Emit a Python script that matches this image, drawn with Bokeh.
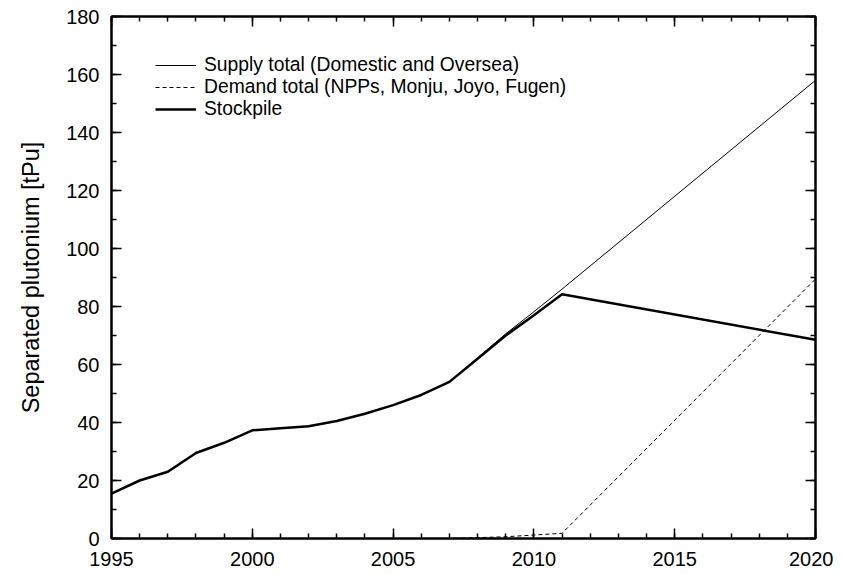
from bokeh.plotting import figure
from bokeh.models import (Range1d, SingleIntervalTicker, LinearAxis, Legend,
                          LegendItem, CustomJSTickFormatter)
from bokeh.embed import file_html
from bokeh.resources import INLINE

years = [1995, 1996, 1997, 1998, 1999, 2000, 2001, 2002, 2003, 2004, 2005,
         2006, 2007, 2008, 2009, 2010, 2011, 2020]
stockpile = [15.5, 20.0, 23.0, 29.5, 33.0, 37.3, 38.0, 38.7, 40.5, 43.0, 46.0,
             49.5, 54.0, 62.0, 70.0, 77.0, 84.2, 68.5]
demand = [0, 0, 0, 0, 0, 0, 0, 0, 0, 0, 0,
          0, 0, 0.3, 0.6, 1.2, 1.8, 89.5]
supply = [15.5, 20.0, 23.0, 29.5, 33.0, 37.3, 38.0, 38.7, 40.5, 43.0, 46.0,
          49.5, 54.0, 62.3, 70.6, 78.2, 86.0, 158.0]

labels = ["Supply total (Domestic and Oversea)",
          "Demand total (NPPs, Monju, Joyo, Fugen)",
          "Stockpile"]

TICK_FONT = "Liberation Sans"
TEXT_FONT = "Liberation Sans"

p = figure(width=833, height=574, output_backend="svg", toolbar_location=None,
           x_range=Range1d(1995, 2020), y_range=Range1d(0, 180),
           min_border_left=111, min_border_right=18, min_border_top=16,
           min_border_bottom=36)
p.xaxis.visible = False
p.yaxis.visible = False
p.grid.visible = False
p.outline_line_color = "black"
p.outline_line_width = 2

def style(ax, show_labels):
    ax.axis_line_color = "black"
    ax.axis_line_width = 2
    ax.major_tick_in = 10
    ax.major_tick_out = 0
    ax.minor_tick_in = 5
    ax.minor_tick_out = 0
    ax.major_tick_line_width = 1.5
    ax.minor_tick_line_width = 1.5
    ax.major_tick_line_color = "black"
    ax.minor_tick_line_color = "black"
    if show_labels:
        ax.major_label_text_font = TICK_FONT
        ax.major_label_text_font_size = "20px"
        ax.major_label_text_color = "black"
    else:
        ax.formatter = CustomJSTickFormatter(code="return '';")
        ax.major_label_standoff = 0

xb = LinearAxis(ticker=SingleIntervalTicker(interval=5, num_minor_ticks=5))
style(xb, True)
xb.major_label_standoff = 13
xt = LinearAxis(ticker=SingleIntervalTicker(interval=5, num_minor_ticks=5))
style(xt, False)
yl = LinearAxis(ticker=SingleIntervalTicker(interval=20, num_minor_ticks=2),
                axis_label="Separated plutonium [tPu]")
style(yl, True)
yl.major_label_standoff = 12
yl.axis_label_text_font = TEXT_FONT
yl.axis_label_text_font_size = "23.5px"
yl.axis_label_text_font_style = "normal"
yl.axis_label_text_color = "black"
yl.axis_label_standoff = 19
yr = LinearAxis(ticker=SingleIntervalTicker(interval=20, num_minor_ticks=2))
style(yr, False)

p.add_layout(xb, "below")
p.add_layout(xt, "above")
p.add_layout(yl, "left")
p.add_layout(yr, "right")

r1 = p.line(years, supply, line_color="black", line_width=1)
r2 = p.line(years, demand, line_color="black", line_width=1, line_dash="4 3")
r3 = p.line(years, stockpile, line_color="black", line_width=2.5)

legend = Legend(items=[LegendItem(label=labels[0], renderers=[r1]),
                       LegendItem(label=labels[1], renderers=[r2]),
                       LegendItem(label=labels[2], renderers=[r3])],
                location=(44, 418), border_line_color=None,
                background_fill_alpha=0, padding=0, spacing=0, margin=0,
                label_height=22, glyph_height=22, glyph_width=41,
                label_standoff=8, label_text_font=TEXT_FONT,
                label_text_font_size="19.3px", label_text_color="black")
p.add_layout(legend, "center")

open("out.html", "w").write(file_html(p, INLINE))
